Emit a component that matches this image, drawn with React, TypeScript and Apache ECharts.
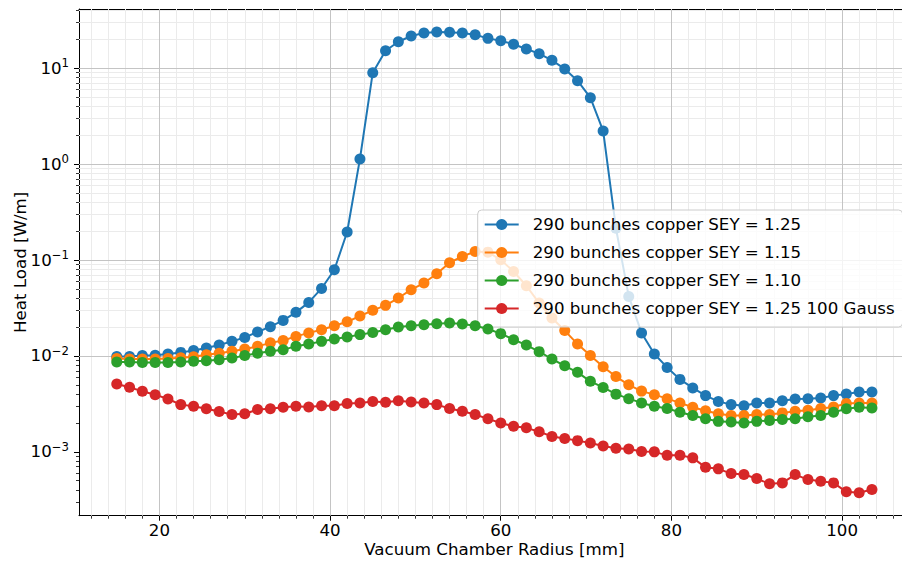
import React, { useEffect, useRef } from "react";
import * as echarts from "echarts";

const radius = [
  15, 16.5, 18, 19.5, 21, 22.5, 24, 25.5, 27, 28.5, 30, 31.5, 33, 34.5, 36, 37.5, 39, 40.5, 42, 43.5,
  45, 46.5, 48, 49.5, 51, 52.5, 54, 55.5, 57, 58.5, 60, 61.5, 63, 64.5, 66, 67.5, 69, 70.5, 72, 73.5,
  75, 76.5, 78, 79.5, 81, 82.5, 84, 85.5, 87, 88.5, 90, 91.5, 93, 94.5, 96, 97.5, 99, 100.5, 102, 103.5,
];

const sey125 = [
  0.0099, 0.0099, 0.0101, 0.0102, 0.0105, 0.0109, 0.0114, 0.0121, 0.013, 0.0142,
  0.0156, 0.0178, 0.0202, 0.0235, 0.0285, 0.0362, 0.0506, 0.0792, 0.196, 1.135,
  9.0, 15.25, 18.9, 21.7, 23.3, 23.9, 23.7, 23.3, 22.4, 20.5,
  19.4, 17.8, 15.9, 14.2, 12.1, 9.84, 7.43, 4.94, 2.22, 0.215,
  0.0418, 0.0174, 0.0105, 0.0076, 0.0057, 0.00464, 0.00386, 0.00336, 0.00311, 0.00303,
  0.00324, 0.00324, 0.00342, 0.00356, 0.00359, 0.00365, 0.00386, 0.00402, 0.00422, 0.00422,
];

const sey115 = [
  0.0094, 0.0093, 0.0093, 0.0093, 0.0094, 0.0096, 0.0098, 0.0103, 0.0107, 0.0112,
  0.0118, 0.0126, 0.0137, 0.0145, 0.016, 0.0174, 0.0188, 0.0207, 0.0227, 0.0261, 0.0299,
  0.0337, 0.0402, 0.0491, 0.0576, 0.072, 0.094, 0.109, 0.123, 0.121, 0.1007, 0.076, 0.054, 0.0356,
  0.0249, 0.0184, 0.0133, 0.0101, 0.0077, 0.0061, 0.005, 0.0043,
  0.00395, 0.00359, 0.00324, 0.00292, 0.00269, 0.0025, 0.0024, 0.00239, 0.00245, 0.00245,
  0.00255, 0.00265, 0.00271, 0.00283, 0.00294, 0.00319, 0.00324, 0.00324,
];

const sey110 = [
  0.00866, 0.00866, 0.00857, 0.00857, 0.00857, 0.00866, 0.0088, 0.00894, 0.00915, 0.0095,
  0.0101, 0.0107, 0.0112, 0.01164, 0.0126, 0.0133, 0.0142, 0.01504, 0.0158, 0.0167, 0.0176,
  0.0188, 0.02, 0.0207, 0.0212, 0.0217, 0.0221, 0.0216, 0.0207, 0.0191, 0.0171,
  0.0148, 0.013, 0.0111, 0.0093, 0.0079, 0.00675, 0.00544, 0.0047, 0.004,
  0.00359, 0.00324, 0.00299, 0.00283, 0.00259, 0.0024, 0.00222, 0.00208, 0.00205, 0.002,
  0.00208, 0.00213, 0.00217, 0.00221, 0.00232, 0.00239, 0.00259, 0.00281, 0.00292, 0.00287,
];

const sey125Gauss = [
  0.0051, 0.00471, 0.00428, 0.00395, 0.00356, 0.00311, 0.00299, 0.00281, 0.00263, 0.00245,
  0.0025, 0.00276, 0.00281, 0.00292, 0.00299, 0.00294, 0.00303, 0.00303, 0.00319, 0.00324, 0.00336,
  0.00329, 0.00342, 0.00332, 0.00324, 0.00311, 0.00283, 0.00265, 0.00245, 0.00221, 0.002,
  0.00185, 0.00178, 0.00162, 0.00145, 0.00138, 0.00131, 0.00124, 0.00115, 0.00109, 0.00107, 0.00101,
  0.001, 0.00092, 0.00092, 0.000866, 0.00069, 0.000665, 0.000594, 0.00058, 0.000527, 0.000464,
  0.000475, 0.00058, 0.000514, 0.000494, 0.000475, 0.000383, 0.000374, 0.000405,
];

const seriesNames = [
  "290 bunches copper SEY = 1.25",
  "290 bunches copper SEY = 1.15",
  "290 bunches copper SEY = 1.10",
  "290 bunches copper SEY = 1.25 100 Gauss",
];
const seriesColors = ["#1f77b4", "#ff7f0e", "#2ca02c", "#d62728"];

const xMajorTicks = [20, 40, 60, 80, 100];
const xMinorTicks = [
  12, 14, 16, 18, 22, 24, 26, 28, 30, 32, 34, 36, 38, 42, 44, 46, 48, 50, 52, 54, 56, 58,
  62, 64, 66, 68, 70, 72, 74, 76, 78, 82, 84, 86, 88, 90, 92, 94, 96, 98, 102, 104, 106,
];
const yMajorTicks = [1e-3, 1e-2, 1e-1, 1, 10];
const yMinorTicks = [
  3e-4, 4e-4, 5e-4, 6e-4, 7e-4, 8e-4, 9e-4,
  2e-3, 3e-3, 4e-3, 5e-3, 6e-3, 7e-3, 8e-3, 9e-3,
  2e-2, 3e-2, 4e-2, 5e-2, 6e-2, 7e-2, 8e-2, 9e-2,
  0.2, 0.3, 0.4, 0.5, 0.6, 0.7, 0.8, 0.9,
  2, 3, 4, 5, 6, 7, 8, 9,
  20, 30, 40,
];

const X_MIN = 10.575;
const X_MAX = 107.925;
const Y_MIN = 2.16e-4;
const Y_MAX = 41.5;

const FONT = "DejaVu Sans";
const FS = 16.67;

export default function App() {
  const ref = useRef<HTMLDivElement>(null);

  useEffect(() => {
    if (!ref.current) return;
    const chart = echarts.init(ref.current, null, { renderer: "svg" });
    const allSeries = [sey125, sey115, sey110, sey125Gauss];

    const supFormatter = (v: number) => {
      const e = Math.round(Math.log10(v));
      const s = e < 0 ? "\u2212" + String(-e) : String(e);
      return "{b|10}{s|" + s + "}";
    };

    const option: any = {
      animation: false,
      backgroundColor: "#ffffff",
      grid: {
        left: 79,
        top: 9,
        width: 830.7,
        bottom: 47.3,
        containLabel: false,
        outerBoundsMode: "none",
      },
      xAxis: [
        {
          type: "value",
          min: X_MIN,
          max: X_MAX,
          position: "bottom",
          name: "Vacuum Chamber Radius [mm]",
          nameLocation: "middle",
          nameGap: 24.5,
          nameMoveOverlap: false,
          nameTextStyle: { fontFamily: FONT, fontSize: FS, color: "#000", lineHeight: 18 },
          axisLine: { show: true, onZero: false, lineStyle: { color: "#000", width: 1 } },
          axisTick: { show: true, customValues: xMajorTicks, length: 5, lineStyle: { color: "#000", width: 1 } },
          axisLabel: {
            show: true,
            customValues: xMajorTicks,
            margin: 6,
            fontFamily: FONT,
            fontSize: FS,
            lineHeight: 17,
            color: "#000",
          },
          splitLine: { show: false },
        },
        {
          type: "value",
          min: X_MIN,
          max: X_MAX,
          position: "bottom",
          axisLine: { show: false },
          axisTick: { show: true, customValues: xMinorTicks, length: 3, lineStyle: { color: "#000", width: 0.8 } },
          axisLabel: { show: false },
          splitLine: { show: false },
        },
        {
          type: "value",
          min: X_MIN,
          max: X_MAX,
          position: "top",
          axisLine: { show: true, onZero: false, lineStyle: { color: "#000", width: 1 } },
          axisTick: { show: false },
          axisLabel: { show: false },
          splitLine: { show: false },
        },
      ],
      yAxis: [
        {
          type: "log",
          logBase: 10,
          min: Y_MIN,
          max: Y_MAX,
          position: "left",
          name: "Heat Load [W/m]",
          nameLocation: "middle",
          nameGap: 49.5,
          nameMoveOverlap: false,
          nameTextStyle: { fontFamily: FONT, fontSize: FS, color: "#000", lineHeight: 18 },
          axisLine: { show: true, onZero: false, lineStyle: { color: "#000", width: 1 } },
          axisTick: { show: true, customValues: yMajorTicks, length: 5, lineStyle: { color: "#000", width: 1 } },
          axisLabel: {
            show: true,
            customValues: yMajorTicks,
            margin: 10,
            formatter: supFormatter,
            rich: {
              b: { fontFamily: FONT, fontSize: FS, color: "#000", lineHeight: 22 },
              s: { fontFamily: FONT, fontSize: 11.7, color: "#000", lineHeight: 12, verticalAlign: "top" },
            },
          },
          splitLine: { show: false },
        },
        {
          type: "log",
          logBase: 10,
          min: Y_MIN,
          max: Y_MAX,
          position: "left",
          axisLine: { show: false },
          axisTick: { show: true, customValues: yMinorTicks, length: 3, lineStyle: { color: "#000", width: 0.8 } },
          axisLabel: { show: false },
          splitLine: { show: false },
        },
      ],
      legend: {
        orient: "vertical",
        left: 477.7,
        top: 210,
        data: seriesNames,
        itemWidth: 34,
        itemHeight: 14,
        itemGap: 11,
        padding: [6, 8, 10, 6],
        backgroundColor: "rgba(255,255,255,0.8)",
        borderColor: "#cccccc",
        borderWidth: 1,
        borderRadius: 4,
        selectedMode: false,
        textStyle: {
          fontFamily: FONT,
          fontSize: FS,
          color: "#000",
          lineHeight: 14,
          padding: [0, 0, 0, 9],
        },
      },
      series: [
        {
          type: "line",
          name: "_minorgrid",
          data: [],
          xAxisIndex: 0,
          yAxisIndex: 0,
          silent: true,
          markLine: {
            silent: true,
            z: 1,
            symbol: ["none", "none"],
            label: { show: false },
            emphasis: { disabled: true },
            lineStyle: { color: "#ebebeb", width: 1, type: "solid" },
            data: [
              ...xMinorTicks.map((v) => ({ xAxis: v })),
              ...yMinorTicks.map((v) => ({ yAxis: v })),
            ],
          },
        },
        {
          type: "line",
          name: "_majorgrid",
          data: [],
          xAxisIndex: 0,
          yAxisIndex: 0,
          silent: true,
          markLine: {
            silent: true,
            z: 1,
            symbol: ["none", "none"],
            label: { show: false },
            emphasis: { disabled: true },
            lineStyle: { color: "#c4c4c4", width: 1, type: "solid" },
            data: [
              ...xMajorTicks.map((v) => ({ xAxis: v })),
              ...yMajorTicks.map((v) => ({ yAxis: v })),
            ],
          },
        },
        ...allSeries.map((vals, k) => ({
          type: "line",
          name: seriesNames[k],
          xAxisIndex: 0,
          yAxisIndex: 0,
          data: radius.map((x, i) => [x, vals[i]]),
          symbol: "circle",
          symbolSize: 11,
          showSymbol: true,
          z: 2 + k,
          color: seriesColors[k],
          itemStyle: { color: seriesColors[k] },
          lineStyle: { color: seriesColors[k], width: 2 },
          emphasis: { disabled: true },
        })),
      ],
    };

    chart.setOption(option);
    return () => chart.dispose();
  }, []);

  return (
    <div
      ref={ref}
      style={{ position: "absolute", left: 0, top: 0, width: 902, height: 563 }}
    />
  );
}
